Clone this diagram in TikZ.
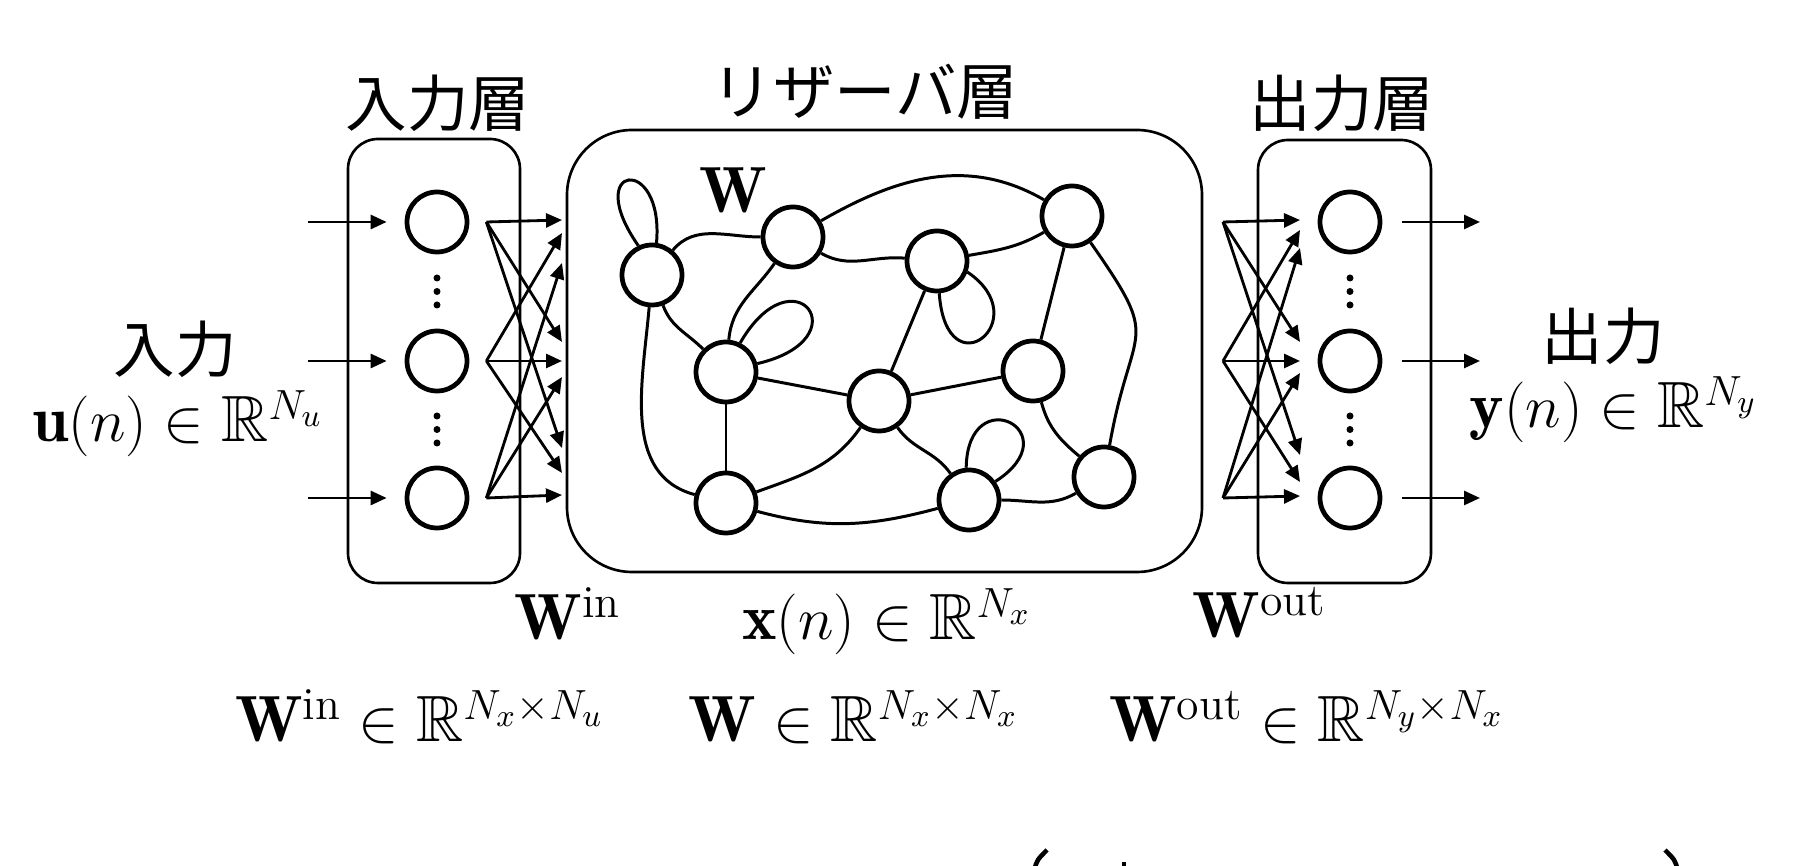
\documentclass[tikz,border=0pt]{standalone}
\usepackage{fontspec}
\usepackage{amsmath,amssymb}
\newfontfamily\jp{Noto Sans CJK JP}
\usetikzlibrary{arrows.meta,calc}
\newcommand{\vb}[1]{\mathbf{#1}}
\newcommand{\RR}{\mathbb{R}}
\tikzset{
	neuron/.style={circle, draw, line width=1.35pt, minimum size=0.6cm, inner sep=0pt},
	layerbox/.style={draw, line width=0.75pt, rounded corners=0.3cm},
	link/.style={line width=0.85pt},
	arr/.style={line width=0.8pt, -{Triangle[length=1.6mm,width=1.4mm]}},
	jplabel/.style={font=\jp\fontsize{17.5}{20}\selectfont, inner sep=0pt},
	mathlabel/.style={font=\fontsize{18.6}{22}\selectfont, inner sep=0pt, anchor=base},
}

\begin{document}
\begin{tikzpicture}
			%%%%% START %%%%%
			\useasboundingbox (0,0) rectangle (18.06,8.66);
			
			\draw[layerbox] (3.48,2.83) rectangle (5.20,7.27);
			\draw[layerbox, rounded corners=0.65cm] (5.67,2.94) rectangle (12.02,7.36);
			\draw[layerbox] (12.58,2.83) rectangle (14.31,7.26);
			
			\node[jplabel] (inlayer) at (4.38,7.63) {入力層};
			\node[jplabel] (reslayer) at (8.65,7.74) {リザーバ層};
			\node[jplabel] (outlayer) at (13.42,7.63) {出力層};
			
			\foreach \y [count=\k] in {6.44,5.05,3.68} {
				\node[neuron] (u\k) at (4.37,\y) {};
				\node[neuron] (y\k) at (13.50,\y) {};
				\coordinate (i\k) at (3.08,\y);
				\coordinate (o\k) at (14.80,\y);
				\coordinate (s\k) at (12.23,\y);
			}
			\foreach \x in {4.37,13.50}
				\foreach \y in {5.88,5.745,5.61,4.50,4.365,4.23}
					\fill (\x,\y) circle (0.035);
			
			\foreach \k in {1,2,3} {
				\draw[arr, shorten >=0.18cm] (i\k) -- (u\k);
				\draw[arr] ([xshift=0.2cm]y\k.east) -- (o\k);
			}
			
			\foreach \t [count=\k] in {6.46,5.24,4.18,6.33,5.05,3.93,6.03,4.89,3.71}
				\coordinate (win\k) at (5.62,\t);
			\foreach \s/\k in {1/1,1/2,1/3,2/4,2/5,2/6,3/7,3/8,3/9}
				\draw[arr] ([xshift=0.17cm]u\s.east) -- (win\k);
			
			\foreach \t [count=\k] in {6.46,5.24,4.11,6.36,5.05,3.84,6.18,4.93,3.70}
				\coordinate (wout\k) at (13.00,\t);
			\foreach \s/\k in {1/1,1/2,1/3,2/4,2/5,2/6,3/7,3/8,3/9}
				\draw[arr] (s\s) -- (wout\k);
			
			\foreach \n/\x/\y in {A/6.52/5.91, B/7.93/6.29, C/9.37/6.05, D/10.72/6.50, E/7.26/4.94,
				F/8.79/4.65, G/10.33/4.95, H/7.26/3.63, I/9.69/3.66, J/11.04/3.89}
				\node[neuron] (\n) at (\x,\y) {};
			
			\draw[link] (A.115) .. controls +(125:1.0) and +(85:0.9) .. (A.82);
			\draw[link] (C.-86) .. controls +(-86:1.0) and +(-34:0.85) .. (C.-20);
			\draw[link] (E.64) .. controls +(60:1.08) and +(13:1.08) .. (E.15);
			\draw[link] (I.95) .. controls +(89:0.89) and +(33:0.91) .. (I.35);
			
			\draw[link] (A) to[out=50,in=180] (B);
			\draw[link] (A) to[out=-70,in=135] (E);
			\draw[link] (A) to[out=-95,in=165] (H);
			\draw[link] (B) to[out=-125,in=85] (E);
			\draw[link] (B) to[out=-30,in=175] (C);
			\draw[link] (B) to[out=30,in=150] (D);
			\draw[link] (C) to[out=10,in=-150] (D);
			\draw[link] (C) -- (F);
			\draw[link] (D) -- (G);
			\draw[link] (D) to[out=-55,in=80,looseness=1.6] (J);
			\draw[link] (E) -- (F);
			\draw[link] (E) -- (H);
			\draw[link] (F) -- (G);
			\draw[link] (F) to[out=-125,in=20] (H);
			\draw[link] (F) to[out=-55,in=125] (I);
			\draw[link] (G) to[out=-75,in=140] (J);
			\draw[link] (H) to[out=-15,in=-165] (I);
			\draw[link] (I) to[out=0,in=-150] (J);
			
			\node[jplabel] (inname) at (1.75,5.17) {入力};
			\node[mathlabel] (ulab) at (1.78,4.24) {$\vb{u}(n)\in\RR^{N_u}$};
			\node[jplabel] (outname) at (16.03,5.30) {出力};
			\node[mathlabel] (ylab) at (16.14,4.38) {$\vb{y}(n)\in\RR^{N_y}$};
			
			\node[mathlabel] (wlab) at (7.33,6.53) {$\vb{W}$};
			\node[mathlabel] (winlab) at (5.68,2.26) {$\vb{W}^{\mathrm{in}}$};
			\node[mathlabel] (xlab) at (8.87,2.26) {$\vb{x}(n)\in\RR^{N_x}$};
			\node[mathlabel] (woutlab) at (12.60,2.28) {$\vb{W}^{\mathrm{out}}$};
			
			\node[mathlabel] (windim) at (4.20,1.24) {$\vb{W}^{\mathrm{in}}\in\RR^{N_x\times N_u}$};
			\node[mathlabel] (wdim) at (8.54,1.24) {$\vb{W}\in\RR^{N_x\times N_x}$};
			\node[mathlabel] (woutdim) at (13.07,1.24) {$\vb{W}^{\mathrm{out}}\in\RR^{N_y\times N_x}$};
			
			\draw[line width=1.3pt] (10.34,-0.05) .. controls (10.37,0.06) .. (10.47,0.16);
			\draw[line width=1.3pt] (16.65,0.16) .. controls (16.75,0.06) .. (16.78,-0.05);
			\fill (11.22,0) rectangle (11.26,0.035);
			
			%%%%% END %%%%%
\end{tikzpicture}
\end{document}
